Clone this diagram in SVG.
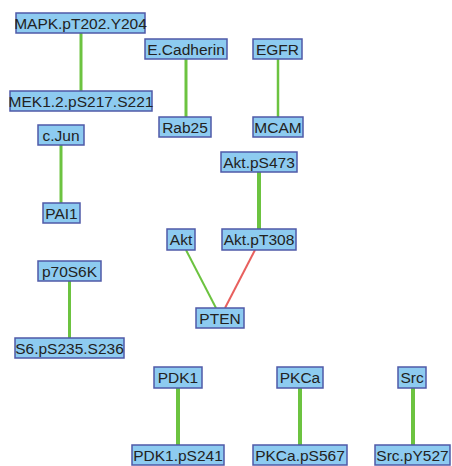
<svg xmlns="http://www.w3.org/2000/svg" width="452" height="466" viewBox="0 0 452 466">
  <style>
    .node rect { fill: #8dcbf0; stroke: #4f5aa8; stroke-width: 1.5; }
    .node text { font-family: "Liberation Sans", Arial, sans-serif; font-size: 15.5px; fill: #222; text-anchor: middle; }
    .pos { stroke: #6cc340; fill: none; }
    .neg { stroke: #e8605e; fill: none; }
  </style>
  <rect width="452" height="466" fill="#ffffff"/>
  <g id="edges">
    <line class="pos" x1="81" y1="33" x2="81" y2="91" stroke-width="3"/>
    <line class="pos" x1="186" y1="59" x2="186" y2="117" stroke-width="3"/>
    <line class="pos" x1="278" y1="59" x2="278" y2="117" stroke-width="2.5"/>
    <line class="pos" x1="61" y1="145" x2="61" y2="203" stroke-width="3"/>
    <line class="pos" x1="259" y1="172" x2="259" y2="229" stroke-width="4"/>
    <line class="pos" x1="186" y1="250" x2="216" y2="308" stroke-width="2"/>
    <line class="neg" x1="255" y1="250" x2="225" y2="308" stroke-width="2"/>
    <line class="pos" x1="69.5" y1="281" x2="69.5" y2="338" stroke-width="3"/>
    <line class="pos" x1="178" y1="388" x2="178" y2="445" stroke-width="4"/>
    <line class="pos" x1="300" y1="388" x2="300" y2="445" stroke-width="4"/>
    <line class="pos" x1="413" y1="388" x2="413" y2="445" stroke-width="4"/>
  </g>
  <g id="MAPK" class="node"><rect x="16" y="13" width="129" height="20"/><text x="80.5" y="28.5">MAPK.pT202.Y204</text></g>
  <g id="MEK" class="node"><rect x="10" y="91" width="142" height="20"/><text x="81" y="106.5">MEK1.2.pS217.S221</text></g>
  <g id="ECadherin" class="node"><rect x="145" y="39" width="82" height="20"/><text x="186" y="54.5">E.Cadherin</text></g>
  <g id="Rab25" class="node"><rect x="159" y="117" width="52" height="20"/><text x="185" y="132.5">Rab25</text></g>
  <g id="EGFR" class="node"><rect x="253" y="39" width="49" height="20"/><text x="277.5" y="54.5">EGFR</text></g>
  <g id="MCAM" class="node"><rect x="253" y="117" width="50" height="20"/><text x="278" y="132.5">MCAM</text></g>
  <g id="cJun" class="node"><rect x="38" y="125" width="46" height="20"/><text x="61" y="140.5">c.Jun</text></g>
  <g id="PAI1" class="node"><rect x="43" y="203" width="37" height="20"/><text x="61.5" y="218.5">PAI1</text></g>
  <g id="AktpS473" class="node"><rect x="221" y="152" width="76" height="20"/><text x="259" y="167.5">Akt.pS473</text></g>
  <g id="AktpT308" class="node"><rect x="222" y="229" width="74" height="21"/><text x="259" y="245">Akt.pT308</text></g>
  <g id="Akt" class="node"><rect x="167" y="229" width="28" height="21"/><text x="181" y="245">Akt</text></g>
  <g id="PTEN" class="node"><rect x="196" y="308" width="48" height="20"/><text x="220" y="323.5">PTEN</text></g>
  <g id="p70S6K" class="node"><rect x="38" y="261" width="63" height="20"/><text x="69.5" y="276.5">p70S6K</text></g>
  <g id="S6" class="node"><rect x="15" y="338" width="109" height="20"/><text x="69.5" y="353.5">S6.pS235.S236</text></g>
  <g id="PDK1" class="node"><rect x="154" y="367" width="48" height="21"/><text x="178" y="383">PDK1</text></g>
  <g id="PDK1pS241" class="node"><rect x="132" y="445" width="92" height="20"/><text x="178" y="460.5">PDK1.pS241</text></g>
  <g id="PKCa" class="node"><rect x="277" y="367" width="46" height="21"/><text x="300" y="383">PKCa</text></g>
  <g id="PKCapS567" class="node"><rect x="253" y="445" width="94" height="20"/><text x="300" y="460.5">PKCa.pS567</text></g>
  <g id="Src" class="node"><rect x="398" y="367" width="28" height="21"/><text x="412" y="383">Src</text></g>
  <g id="SrcpY527" class="node"><rect x="375" y="445" width="75" height="20"/><text x="412.5" y="460.5">Src.pY527</text></g>
</svg>
